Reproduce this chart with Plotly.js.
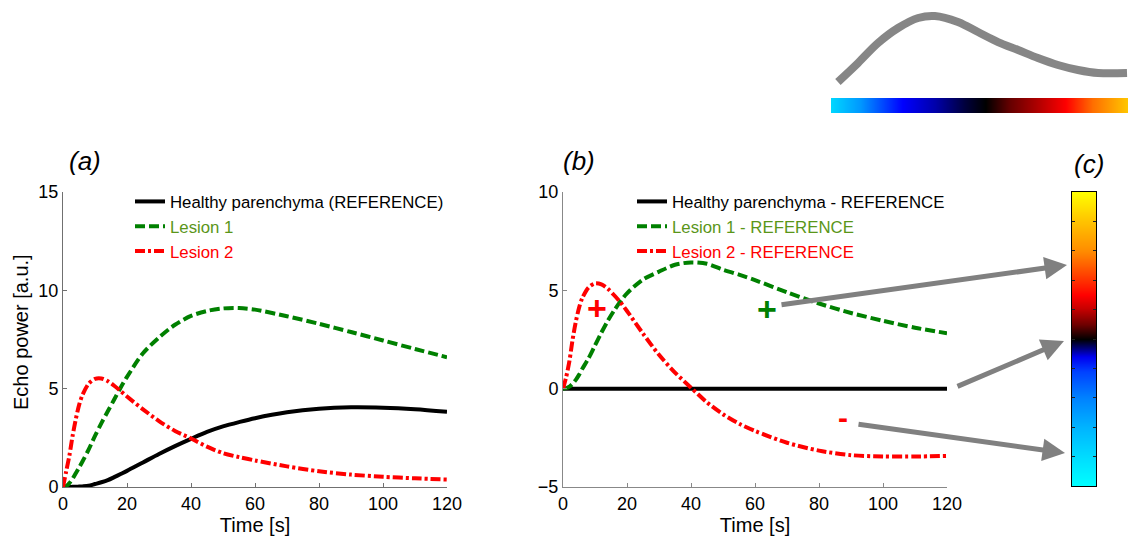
<!DOCTYPE html>
<html>
<head>
<meta charset="utf-8">
<script src="https://cdn.plot.ly/plotly-3.0.1.min.js"></script>
<style>html,body{margin:0;padding:0;background:#fff;}#chart{width:1129px;height:536px;}</style>
</head>
<body>
<div id="chart"></div>
<script>
// ---- data ----
const timeA = [0,1,2,3,4,5,6,8,10,12,14,16,18,20,25,30,35,40,45,50,55,60,70,80,90,100,110,120];
const healthyA = [0,0,0,0.01,0.01,0.02,0.03,0.06,0.15,0.24,0.35,0.5,0.66,0.82,1.25,1.68,2.08,2.45,2.8,3.08,3.3,3.5,3.8,3.98,4.05,4.03,3.95,3.82];
const lesion1A = [0,0.05,0.2,0.42,0.7,0.98,1.27,1.9,2.6,3.25,3.85,4.45,5.05,5.6,6.8,7.6,8.25,8.7,8.95,9.08,9.1,9.02,8.68,8.3,7.88,7.45,7.02,6.6];
const lesion2A = [0,0.8,1.6,2.6,3.45,4.15,4.65,5.25,5.5,5.52,5.38,5.15,4.88,4.6,3.95,3.35,2.85,2.47,2.05,1.72,1.52,1.35,1.05,0.8,0.63,0.52,0.44,0.38];

const timeB = [0,1,2,3,4,5,6,8,10,12,14,16,18,20,25,30,35,40,45,50,55,60,70,80,90,100,110,120];
const healthyB = [0,0,0,0,0,0,0,0,0,0,0,0,0,0,0,0,0,0,0,0,0,0,0,0,0,0,0,0];
const lesion1B = [0,0.03,0.1,0.25,0.45,0.7,1.0,1.55,2.2,2.85,3.45,3.98,4.45,4.85,5.55,5.95,6.3,6.42,6.35,6.05,5.8,5.52,4.9,4.33,3.85,3.45,3.1,2.82];
const lesion2B = [0,0.6,1.4,2.5,3.4,4.1,4.6,5.15,5.35,5.3,5.08,4.75,4.38,3.95,2.8,1.72,0.82,0.05,-0.7,-1.3,-1.78,-2.15,-2.75,-3.15,-3.38,-3.45,-3.45,-3.42];

// small inset curve (top right), in inset units
const insetTime = [2.8,10.9,19,27.1,35.2,42,51.3,59.4,67.5,75.6,83.6,91.7,99.8,107.9,119.6];
const insetValue = [0.98,3.29,5.73,7.56,8.78,9.02,8.29,7.07,5.85,4.88,3.9,3.05,2.44,2.07,2.07];

// colour levels for the two colour scales
const stripLevels = [0, 1];
const barLevels = [0, 1];

const xTicks = [0,20,40,60,80,100,120];
const yTicksA = [0,5,10,15];
const yTicksB = [-5,0,5,10];
const barTicks = [1,2,3,4,5,6,7,8,9];

const namesA = ['Healthy parenchyma (REFERENCE)','Lesion 1','Lesion 2'];
const namesB = ['Healthy parenchyma - REFERENCE','Lesion 1 - REFERENCE','Lesion 2 - REFERENCE'];

// ---- styles ----
const FONT = 'Liberation Sans, Arial, sans-serif';
const GREEN = 'rgb(0,128,0)';
const RED = 'rgb(255,0,0)';
const OLIVE = 'rgb(90,150,25)';
const GRAY = 'rgb(128,128,128)';
const W = 1129, H = 536;
const px = v => v / W;
const py = v => 1 - v / H;

const dashG = '10px,4px';
const dashR = '10px,3px,3px,3px';

function lineTrace(x, y, name, color, dash, xa, ya, legend) {
  return {type:'scatter', mode:'lines', x:x, y:y, name:name, xaxis:xa, yaxis:ya, legend:legend,
    line:{color:color, width:4, dash:dash, shape:'spline', smoothing:0.8}};
}

const traces = [
  lineTrace(timeA, healthyA, namesA[0], 'black', 'solid', 'x', 'y', 'legend'),
  lineTrace(timeA, lesion1A, '<span style="color:'+OLIVE+'">'+namesA[1]+'</span>', GREEN, dashG, 'x', 'y', 'legend'),
  lineTrace(timeA, lesion2A, '<span style="color:'+RED+'">'+namesA[2]+'</span>', RED, dashR, 'x', 'y', 'legend'),
  lineTrace(timeB, healthyB, namesB[0], 'black', 'solid', 'x2', 'y2', 'legend2'),
  lineTrace(timeB, lesion1B, '<span style="color:'+OLIVE+'">'+namesB[1]+'</span>', GREEN, dashG, 'x2', 'y2', 'legend2'),
  lineTrace(timeB, lesion2B, '<span style="color:'+RED+'">'+namesB[2]+'</span>', RED, dashR, 'x2', 'y2', 'legend2'),
  {type:'heatmap', x:[0,1], y:[0,10], z:[[barLevels[0],barLevels[0]],[barLevels[1],barLevels[1]]], zsmooth:'best',
    xaxis:'x3', yaxis:'y3', showscale:false, hoverinfo:'skip', zmin:0, zmax:1,
    colorscale:[[0,'rgb(0,255,255)'],[0.1,'rgb(0,220,255)'],[0.2,'rgb(0,180,255)'],[0.3,'rgb(0,130,255)'],[0.39,'rgb(0,65,255)'],[0.44,'rgb(0,0,240)'],[0.47,'rgb(0,0,120)'],[0.5,'rgb(0,0,0)'],[0.55,'rgb(110,0,0)'],[0.605,'rgb(200,0,0)'],[0.65,'rgb(255,0,0)'],[0.68,'rgb(255,30,0)'],[0.8,'rgb(255,140,0)'],[0.91,'rgb(255,200,0)'],[1,'rgb(255,255,0)']]},
  {type:'heatmap', x:[0,1], y:[0,1], z:[[stripLevels[0],stripLevels[1]],[stripLevels[0],stripLevels[1]]], zsmooth:'best',
    xaxis:'x4', yaxis:'y4', showscale:false, hoverinfo:'skip', zmin:0, zmax:1,
    colorscale:[[0,'rgb(0,215,255)'],[0.1,'rgb(0,150,255)'],[0.24,'rgb(0,0,255)'],[0.35,'rgb(0,0,170)'],[0.45,'rgb(0,0,60)'],[0.52,'rgb(0,0,0)'],[0.6,'rgb(100,0,0)'],[0.7,'rgb(180,0,0)'],[0.79,'rgb(255,0,0)'],[0.88,'rgb(255,110,0)'],[1,'rgb(255,200,0)']]},
  {type:'scatter', mode:'lines', x:insetTime, y:insetValue, xaxis:'x5', yaxis:'y5', showlegend:false, hoverinfo:'skip',
    line:{color:'rgba(128,128,128,0.95)', width:8, shape:'spline', smoothing:1}}
];

const tickFont = {family:FONT, size:18, color:'black'};
const titleFont = {family:FONT, size:20, color:'black'};

function timeAxis(domain, anchor, lineColor) {
  return {domain:domain, anchor:anchor, range:[0,120], tickvals:xTicks, ticks:'inside', ticklen:4, tickcolor:lineColor,
    showline:true, linecolor:lineColor, linewidth:1, showgrid:false, zeroline:false, tickfont:tickFont,
    title:{text:'Time [s]', font:titleFont, standoff:2}};
}
function valAxis(domain, anchor, range, tickvals, lineColor) {
  return {domain:domain, anchor:anchor, range:range, tickvals:tickvals, ticks:'inside', ticklen:4, tickcolor:lineColor,
    showline:true, linecolor:lineColor, linewidth:1, showgrid:false, zeroline:false, tickfont:tickFont};
}
const plain = (domain, anchor, range) => ({domain:domain, anchor:anchor, range:range, visible:false, fixedrange:true});

const yDom = [py(487), py(192)];
const legendFont = {family:FONT, size:16.8, color:'black'};
const layout = {
  width:W, height:H, margin:{l:0,r:0,t:0,b:0}, paper_bgcolor:'white', plot_bgcolor:'rgba(0,0,0,0)',
  font:{family:FONT, color:'black'},
  xaxis: timeAxis([px(63), px(447)], 'y', '#707070'),
  yaxis: valAxis(yDom, 'x', [0,15], yTicksA, '#707070'),
  xaxis2: timeAxis([px(563), px(947)], 'y2', '#888888'),
  yaxis2: valAxis(yDom, 'x2', [-5,10], yTicksB, '#888888'),
  xaxis3: {domain:[px(1072), px(1096)], anchor:'y3', range:[0,1], showline:true, mirror:true, linecolor:'black', linewidth:1,
    showticklabels:false, ticks:'', showgrid:false, zeroline:false},
  yaxis3: {domain:[py(486), py(192)], anchor:'x3', range:[0,10], tickvals:barTicks, ticks:'inside', ticklen:3, tickcolor:'#222',
    showline:true, mirror:'ticks', linecolor:'black', linewidth:1, showticklabels:false, showgrid:false, zeroline:false},
  xaxis4: plain([px(831), px(1128)], 'y4', [0,1]),
  yaxis4: plain([py(113), py(98)], 'x4', [0,1]),
  xaxis5: plain([px(831), px(1128)], 'y5', [0,120]),
  yaxis5: plain([py(90), py(8)], 'x5', [0,10]),
  legend: {x:px(130), y:py(184), xanchor:'left', yanchor:'top', bgcolor:'rgba(0,0,0,0)', borderwidth:0,
    font:legendFont, tracegroupgap:0, itemwidth:30},
  legend2: {x:px(632), y:py(184), xanchor:'left', yanchor:'top', bgcolor:'rgba(0,0,0,0)', borderwidth:0,
    font:legendFont, tracegroupgap:0, itemwidth:30},
  annotations: [
    {text:'Echo power [a.u.]', xref:'paper', yref:'paper', x:px(21), y:py(332), xanchor:'center', yanchor:'middle', textangle:-90, showarrow:false, font:titleFont},
    {text:'<i>(a)</i>', xref:'paper', yref:'paper', x:px(85), y:py(161), xanchor:'center', yanchor:'middle', showarrow:false, font:{family:FONT, size:26}},
    {text:'<i>(b)</i>', xref:'paper', yref:'paper', x:px(579), y:py(161), xanchor:'center', yanchor:'middle', showarrow:false, font:{family:FONT, size:26}},
    {text:'<i>(c)</i>', xref:'paper', yref:'paper', x:px(1089), y:py(164), xanchor:'center', yanchor:'middle', showarrow:false, font:{family:FONT, size:26}},
    {text:'<b>+</b>', xref:'x2', yref:'y2', x:10.6, y:4.12, xanchor:'center', yanchor:'middle', showarrow:false, font:{family:FONT, size:34, color:RED}},
    {text:'<b>+</b>', xref:'x2', yref:'y2', x:63.75, y:4.07, xanchor:'center', yanchor:'middle', showarrow:false, font:{family:FONT, size:34, color:GREEN}},
    {text:'<b>-</b>', xref:'x2', yref:'y2', x:87.5, y:-1.45, xanchor:'center', yanchor:'middle', showarrow:false, font:{family:FONT, size:30, color:RED}},
    {text:'', xref:'paper', yref:'paper', x:px(1067), y:py(265), ax:-287, ay:40, showarrow:true, arrowhead:2, arrowsize:0.9, arrowwidth:5, arrowcolor:GRAY, standoff:0},
    {text:'', xref:'paper', yref:'paper', x:px(1064), y:py(341), ax:-108, ay:46, showarrow:true, arrowhead:2, arrowsize:0.9, arrowwidth:5, arrowcolor:GRAY, standoff:0},
    {text:'', xref:'paper', yref:'paper', x:px(1065), y:py(453), ax:-208, ay:-29, showarrow:true, arrowhead:2, arrowsize:0.9, arrowwidth:5, arrowcolor:GRAY, standoff:0}
  ]
};

Plotly.newPlot('chart', traces, layout, {displayModeBar:false, staticPlot:true});
</script>
</body>
</html>
